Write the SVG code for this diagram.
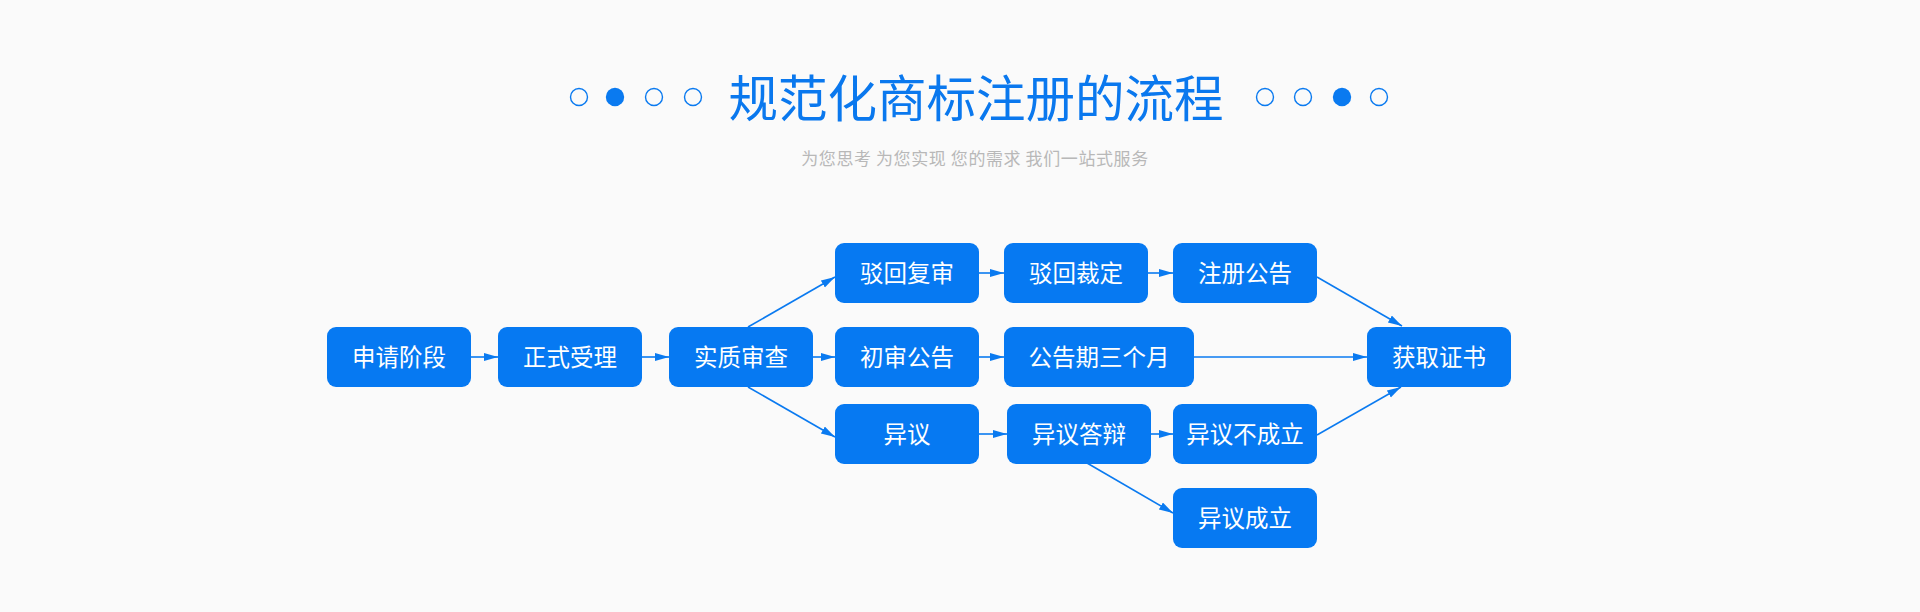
<svg xmlns="http://www.w3.org/2000/svg" width="1920" height="612" viewBox="0 0 1920 612">
<style>
.bg{fill:#fafafa}
.node rect{fill:#0679f2}
.node text{fill:#ffffff;font-family:"Noto Sans CJK SC","Noto Sans",sans-serif;font-size:23.5px;text-anchor:middle}
.dot{fill:none;stroke:#0a7af0;stroke-width:1.4}
.dotf{fill:#0a7af0}
.title{fill:#0a78ee;font-family:"Noto Sans CJK SC",sans-serif;font-size:49.5px;text-anchor:middle}
.sub{fill:#b8b8b8;font-family:"Noto Sans CJK SC",sans-serif;font-size:17px;letter-spacing:0.6px;text-anchor:middle}
.conn line{stroke:#0a7af0;stroke-width:1.6;marker-end:url(#ah)}
</style>
<defs>
<marker id="ah" markerUnits="userSpaceOnUse" markerWidth="16" markerHeight="10" refX="14" refY="4" orient="auto">
<path d="M0,0 L14,4 L0,8 Z" fill="#0a7af0"/>
</marker>
</defs>
<rect class="bg" x="0" y="0" width="1920" height="612"/>
<g id="title">
<circle class="dot" cx="579" cy="97" r="8.5"/>
<circle class="dotf" cx="615" cy="97" r="9.2"/>
<circle class="dot" cx="654" cy="97" r="8.5"/>
<circle class="dot" cx="693" cy="97" r="8.5"/>
<text class="title" x="976" y="117">规范化商标注册的流程</text>
<circle class="dot" cx="1265" cy="97" r="8.5"/>
<circle class="dot" cx="1303" cy="97" r="8.5"/>
<circle class="dotf" cx="1342" cy="97" r="9.2"/>
<circle class="dot" cx="1379" cy="97" r="8.5"/>
<text class="sub" x="975" y="165">为您思考 为您实现 您的需求 我们一站式服务</text>
</g>
<g id="connectors" class="conn">
<line x1="471" y1="357" x2="498" y2="357"/>
<line x1="642" y1="357" x2="669" y2="357"/>
<line x1="813" y1="357" x2="835" y2="357"/>
<line x1="748" y1="327" x2="835" y2="277"/>
<line x1="748" y1="387" x2="835" y2="437"/>
<line x1="979" y1="273" x2="1004" y2="273"/>
<line x1="1148" y1="273" x2="1173" y2="273"/>
<line x1="979" y1="357" x2="1004" y2="357"/>
<line x1="1194" y1="357" x2="1367" y2="357"/>
<line x1="1317" y1="277" x2="1402" y2="326"/>
<line x1="1317" y1="435" x2="1401" y2="387"/>
<line x1="979" y1="434" x2="1007" y2="434"/>
<line x1="1151" y1="434" x2="1173" y2="434"/>
<line x1="1087" y1="463" x2="1173" y2="513"/>
</g>
<g id="n1" class="node"><rect x="327" y="327" width="144" height="60" rx="9"/><text x="399" y="366">申请阶段</text></g>
<g id="n2" class="node"><rect x="498" y="327" width="144" height="60" rx="9"/><text x="570" y="366">正式受理</text></g>
<g id="n3" class="node"><rect x="669" y="327" width="144" height="60" rx="9"/><text x="741" y="366">实质审查</text></g>
<g id="n4" class="node"><rect x="835" y="243" width="144" height="60" rx="9"/><text x="907" y="282">驳回复审</text></g>
<g id="n5" class="node"><rect x="835" y="327" width="144" height="60" rx="9"/><text x="907" y="366">初审公告</text></g>
<g id="n6" class="node"><rect x="835" y="404" width="144" height="60" rx="9"/><text x="907" y="443">异议</text></g>
<g id="n7" class="node"><rect x="1004" y="243" width="144" height="60" rx="9"/><text x="1076" y="282">驳回裁定</text></g>
<g id="n8" class="node"><rect x="1004" y="327" width="190" height="60" rx="9"/><text x="1099" y="366">公告期三个月</text></g>
<g id="n9" class="node"><rect x="1007" y="404" width="144" height="60" rx="9"/><text x="1079" y="443">异议答辩</text></g>
<g id="n10" class="node"><rect x="1173" y="243" width="144" height="60" rx="9"/><text x="1245" y="282">注册公告</text></g>
<g id="n11" class="node"><rect x="1173" y="404" width="144" height="60" rx="9"/><text x="1245" y="443">异议不成立</text></g>
<g id="n12" class="node"><rect x="1173" y="488" width="144" height="60" rx="9"/><text x="1245" y="527">异议成立</text></g>
<g id="n13" class="node"><rect x="1367" y="327" width="144" height="60" rx="9"/><text x="1439" y="366">获取证书</text></g>
</svg>
